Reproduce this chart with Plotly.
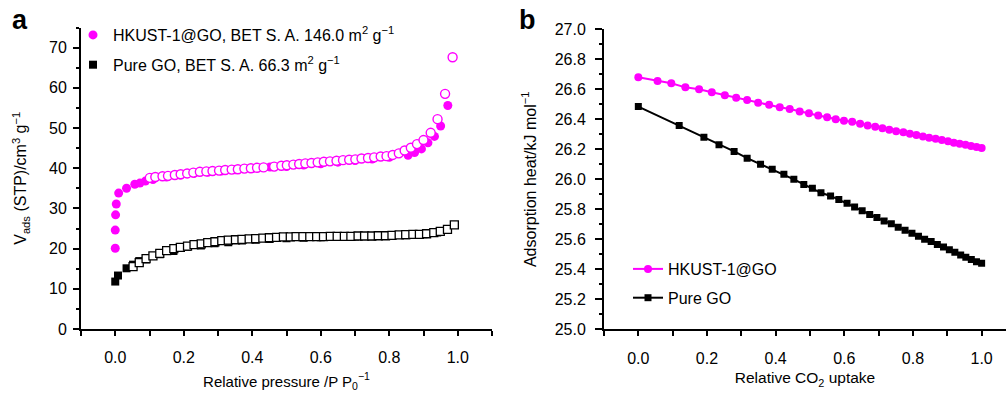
import plotly.graph_objects as go

# ---------------- Panel a: N2 isotherms ----------------
hk_ads_x = [0.0, 0.0, 0.001, 0.003, 0.01, 0.033, 0.057, 0.072, 0.088, 0.11, 0.15, 0.19, 0.23,
            0.27, 0.31, 0.35, 0.40, 0.452, 0.50, 0.55, 0.60, 0.65, 0.70, 0.75, 0.80, 0.855,
            0.874, 0.894, 0.913, 0.932, 0.95, 0.971]
hk_ads_y = [20.1, 24.6, 28.4, 31.1, 33.8, 35.0, 36.0, 36.3, 36.8, 37.2, 37.8, 38.3, 38.7,
            39.0, 39.3, 39.6, 39.9, 40.3, 40.4, 40.8, 41.1, 41.5, 41.9, 42.3, 42.7, 43.2,
            43.9, 44.8, 46.3, 47.9, 50.5, 55.6]

hk_des_x = [0.101, 0.117, 0.138, 0.154, 0.174, 0.191, 0.210, 0.228, 0.247, 0.266, 0.284, 0.303,
            0.321, 0.340, 0.358, 0.377, 0.396, 0.414, 0.433, 0.464, 0.485, 0.501, 0.520, 0.537,
            0.555, 0.573, 0.591, 0.609, 0.627, 0.646, 0.665, 0.683, 0.701, 0.719, 0.738, 0.756,
            0.775, 0.792, 0.810, 0.828, 0.845, 0.863, 0.881, 0.900, 0.921, 0.941, 0.963, 0.985]
hk_des_y = [37.6, 37.8, 38.0, 38.1, 38.3, 38.5, 38.7, 38.9, 39.1, 39.2, 39.3, 39.4,
            39.55, 39.65, 39.75, 39.9, 40.0, 40.1, 40.2, 40.4, 40.6, 40.75, 40.9, 41.05,
            41.2, 41.3, 41.45, 41.6, 41.7, 41.85, 42.0, 42.1, 42.2, 42.4, 42.55, 42.7,
            42.9, 43.0, 43.3, 43.7, 44.4, 45.1, 46.0, 47.0, 48.8, 52.2, 58.5, 67.6]

go_ads_x = [0.0, 0.008, 0.033, 0.052, 0.070, 0.09, 0.13, 0.17, 0.21, 0.25, 0.29, 0.33, 0.37,
            0.41, 0.45, 0.50, 0.55, 0.60, 0.65, 0.70, 0.75, 0.80, 0.85, 0.90, 0.94]
go_ads_y = [11.8, 13.3, 15.1, 16.0, 16.9, 17.3, 18.6, 19.4, 20.4, 20.8, 21.3, 21.6, 22.0,
            22.2, 22.4, 22.6, 22.7, 22.8, 22.9, 23.0, 23.1, 23.2, 23.3, 23.6, 24.0]

go_des_x = [0.052, 0.070, 0.090, 0.110, 0.130, 0.150, 0.171, 0.190, 0.211, 0.230, 0.251, 0.270,
            0.291, 0.311, 0.330, 0.351, 0.370, 0.391, 0.410, 0.431, 0.450, 0.471, 0.491, 0.511,
            0.528, 0.548, 0.568, 0.588, 0.608, 0.628, 0.648, 0.669, 0.688, 0.709, 0.728, 0.749,
            0.768, 0.789, 0.808, 0.829, 0.848, 0.869, 0.888, 0.909, 0.930, 0.949, 0.970, 0.990]
go_des_y = [15.5, 16.5, 17.5, 18.2, 18.8, 19.5, 20.0, 20.3, 20.6, 21.0, 21.2, 21.5,
            21.7, 22.0, 22.1, 22.2, 22.3, 22.4, 22.5, 22.6, 22.7, 22.8, 22.9, 22.9,
            22.96, 22.96, 22.96, 22.96, 22.96, 23.05, 23.05, 23.05, 23.05, 23.13, 23.13, 23.13,
            23.2, 23.2, 23.3, 23.4, 23.46, 23.55, 23.55, 23.7, 23.96, 24.3, 24.8, 25.9]

# ---------------- Panel b: adsorption heat ----------------
hk_q_x = [0.0, 0.056, 0.096, 0.137, 0.177, 0.214, 0.252, 0.285, 0.317, 0.349, 0.381, 0.412,
          0.441, 0.470, 0.497, 0.524, 0.550, 0.575, 0.599, 0.623, 0.646, 0.668, 0.690, 0.711,
          0.731, 0.751, 0.772, 0.791, 0.810, 0.829, 0.847, 0.866, 0.884, 0.902, 0.919, 0.936,
          0.953, 0.969, 0.985, 1.0]
hk_q_y = [26.68, 26.655, 26.64, 26.613, 26.60, 26.58, 26.56, 26.544, 26.528, 26.51, 26.497, 26.48,
          26.468, 26.452, 26.44, 26.425, 26.414, 26.40, 26.39, 26.383, 26.37, 26.358, 26.35, 26.34,
          26.33, 26.32, 26.313, 26.304, 26.295, 26.286, 26.277, 26.27, 26.262, 26.253, 26.244, 26.237,
          26.23, 26.222, 26.215, 26.208]

go_q_x = [0.0, 0.119, 0.191, 0.235, 0.279, 0.317, 0.356, 0.390, 0.424, 0.453, 0.482, 0.507,
          0.532, 0.560, 0.584, 0.608, 0.630, 0.652, 0.674, 0.695, 0.716, 0.737, 0.757, 0.777,
          0.797, 0.816, 0.834, 0.853, 0.871, 0.889, 0.906, 0.922, 0.939, 0.954, 0.970, 0.985, 1.0]
go_q_y = [26.485, 26.358, 26.28, 26.23, 26.186, 26.141, 26.10, 26.067, 26.034, 26.0, 25.966, 25.94,
          25.91, 25.889, 25.865, 25.84, 25.815, 25.79, 25.766, 25.746, 25.722, 25.704, 25.68, 25.66,
          25.64, 25.62, 25.60, 25.585, 25.565, 25.548, 25.53, 25.513, 25.496, 25.48, 25.465, 25.45, 25.44]

x_ticks = [0, 0.2, 0.4, 0.6, 0.8, 1.0]
x_ticktext = ["0.0", "0.2", "0.4", "0.6", "0.8", "1.0"]
ya_ticks = [0, 10, 20, 30, 40, 50, 60, 70]
yb_ticks = [25.0, 25.2, 25.4, 25.6, 25.8, 26.0, 26.2, 26.4, 26.6, 26.8, 27.0]
yb_ticktext = ["25.0", "25.2", "25.4", "25.6", "25.8", "26.0", "26.2", "26.4", "26.6", "26.8", "27.0"]

MAG = "#FF00FF"
BLK = "#000000"
FONT = "Liberation Sans, Arial, Helvetica, sans-serif"
W, H = 1006, 395

fig = go.Figure()

# panel a traces
fig.add_trace(go.Scatter(x=hk_ads_x, y=hk_ads_y, mode="markers", xaxis="x", yaxis="y",
                         name="HKUST-1@GO, BET S. A. 146.0 m<sup>2</sup> g<sup>−1</sup>",
                         legend="legend", legendgroup="a1",
                         marker=dict(symbol="circle", size=9, color=MAG, line=dict(width=0))))
fig.add_trace(go.Scatter(x=hk_des_x, y=hk_des_y, mode="markers", xaxis="x", yaxis="y",
                         showlegend=False,
                         marker=dict(symbol="circle", size=9, color="white", line=dict(width=1.4, color=MAG))))
fig.add_trace(go.Scatter(x=go_ads_x, y=go_ads_y, mode="markers", xaxis="x", yaxis="y",
                         name="Pure GO, BET S. A. 66.3 m<sup>2</sup> g<sup>−1</sup>",
                         legend="legend", legendgroup="a2",
                         marker=dict(symbol="square", size=8, color=BLK, line=dict(width=0))))
fig.add_trace(go.Scatter(x=go_des_x, y=go_des_y, mode="markers", xaxis="x", yaxis="y",
                         showlegend=False,
                         marker=dict(symbol="square", size=8, color="white", line=dict(width=1.3, color=BLK))))

# panel b traces
fig.add_trace(go.Scatter(x=hk_q_x, y=hk_q_y, mode="lines+markers", xaxis="x2", yaxis="y2",
                         name="HKUST-1@GO", legend="legend2", legendgroup="b1",
                         line=dict(color=MAG, width=2),
                         marker=dict(symbol="circle", size=8, color=MAG)))
fig.add_trace(go.Scatter(x=go_q_x, y=go_q_y, mode="lines+markers", xaxis="x2", yaxis="y2",
                         name="Pure GO", legend="legend2", legendgroup="b2",
                         line=dict(color=BLK, width=2),
                         marker=dict(symbol="square", size=7, color=BLK)))

axis_common = dict(showline=True, linecolor="black", linewidth=2, ticks="outside",
                   tickcolor="black", tickwidth=1.5, showgrid=False, zeroline=False,
                   automargin=False,
                   tickfont=dict(family=FONT, size=16, color="black"))

fig.update_layout(
    width=W, height=H, autosize=False,
    margin=dict(l=0, r=0, t=0, b=0, pad=0),
    paper_bgcolor="white", plot_bgcolor="white",
    font=dict(family=FONT, color="black"),
    xaxis=dict(domain=[81/W, 492/W], range=[-0.1, 1.1], anchor="y",
               tickvals=x_ticks, ticktext=x_ticktext,
               ticklen=5, ticklabelstandoff=8,
               minor=dict(dtick=0.1, tick0=-0.1, ticklen=5, tickwidth=1.5, tickcolor="black", ticks="outside"),
               title=dict(text="Relative pressure /P P<sub>0</sub><sup>−1</sup>", standoff=11,
                          font=dict(family=FONT, size=15, color="black")),
               **axis_common),
    yaxis=dict(domain=[66/H, 367.5/H], range=[0, 75], anchor="x",
               tickvals=ya_ticks, ticklen=6, ticklabelstandoff=3,
               minor=dict(dtick=5, tick0=0, ticklen=3, tickwidth=1.5, tickcolor="black", ticks="outside"),
               title=dict(text="V<sub>ads</sub> (STP)/cm<sup>3</sup> g<sup>−1</sup>", standoff=18,
                          font=dict(family=FONT, size=16, color="black")),
               **axis_common),
    xaxis2=dict(domain=[604/W, 1.0], range=[-0.1, 1.071], anchor="y2",
                tickvals=x_ticks, ticktext=x_ticktext,
                ticklen=5, ticklabelstandoff=8,
                minor=dict(dtick=0.1, tick0=-0.1, ticklen=5, tickwidth=1.5, tickcolor="black", ticks="outside"),
                title=dict(text="Relative CO<sub>2</sub> uptake", standoff=7,
                           font=dict(family=FONT, size=15.5, color="black")),
                **axis_common),
    yaxis2=dict(domain=[65.7/H, 365.7/H], range=[25.0, 27.0], anchor="x2",
                tickvals=yb_ticks, ticktext=yb_ticktext,
                ticklen=7, ticklabelstandoff=6,
                minor=dict(dtick=0.1, tick0=25.0, ticklen=3, tickwidth=1.5, tickcolor="black", ticks="outside"),
                title=dict(text="Adsorption heat/kJ mol<sup>−1</sup>", standoff=14,
                           font=dict(family=FONT, size=16, color="black")),
                **axis_common),
    legend=dict(x=73/W, y=1 - 18/H, xanchor="left", yanchor="top",
                bgcolor="rgba(0,0,0,0)", borderwidth=0, tracegroupgap=6,
                traceorder="grouped",
                font=dict(family=FONT, size=16, color="black")),
    legend2=dict(x=628/W, y=1 - 252/H, xanchor="left", yanchor="top",
                 bgcolor="rgba(0,0,0,0)", borderwidth=0, tracegroupgap=5,
                 traceorder="grouped",
                 font=dict(family=FONT, size=16, color="black")),
    annotations=[
        dict(text="<b>a</b>", x=10/W, y=1 - 20/H, xref="paper", yref="paper",
             xanchor="left", yanchor="middle", showarrow=False,
             font=dict(family=FONT, size=27, color="black")),
        dict(text="<b>b</b>", x=517/W, y=1 - 20/H, xref="paper", yref="paper",
             xanchor="left", yanchor="middle", showarrow=False,
             font=dict(family=FONT, size=27, color="black")),
    ],
)

fig.write_html("out.html", config={"displayModeBar": False},
               post_script="document.body.style.margin='0px';")
